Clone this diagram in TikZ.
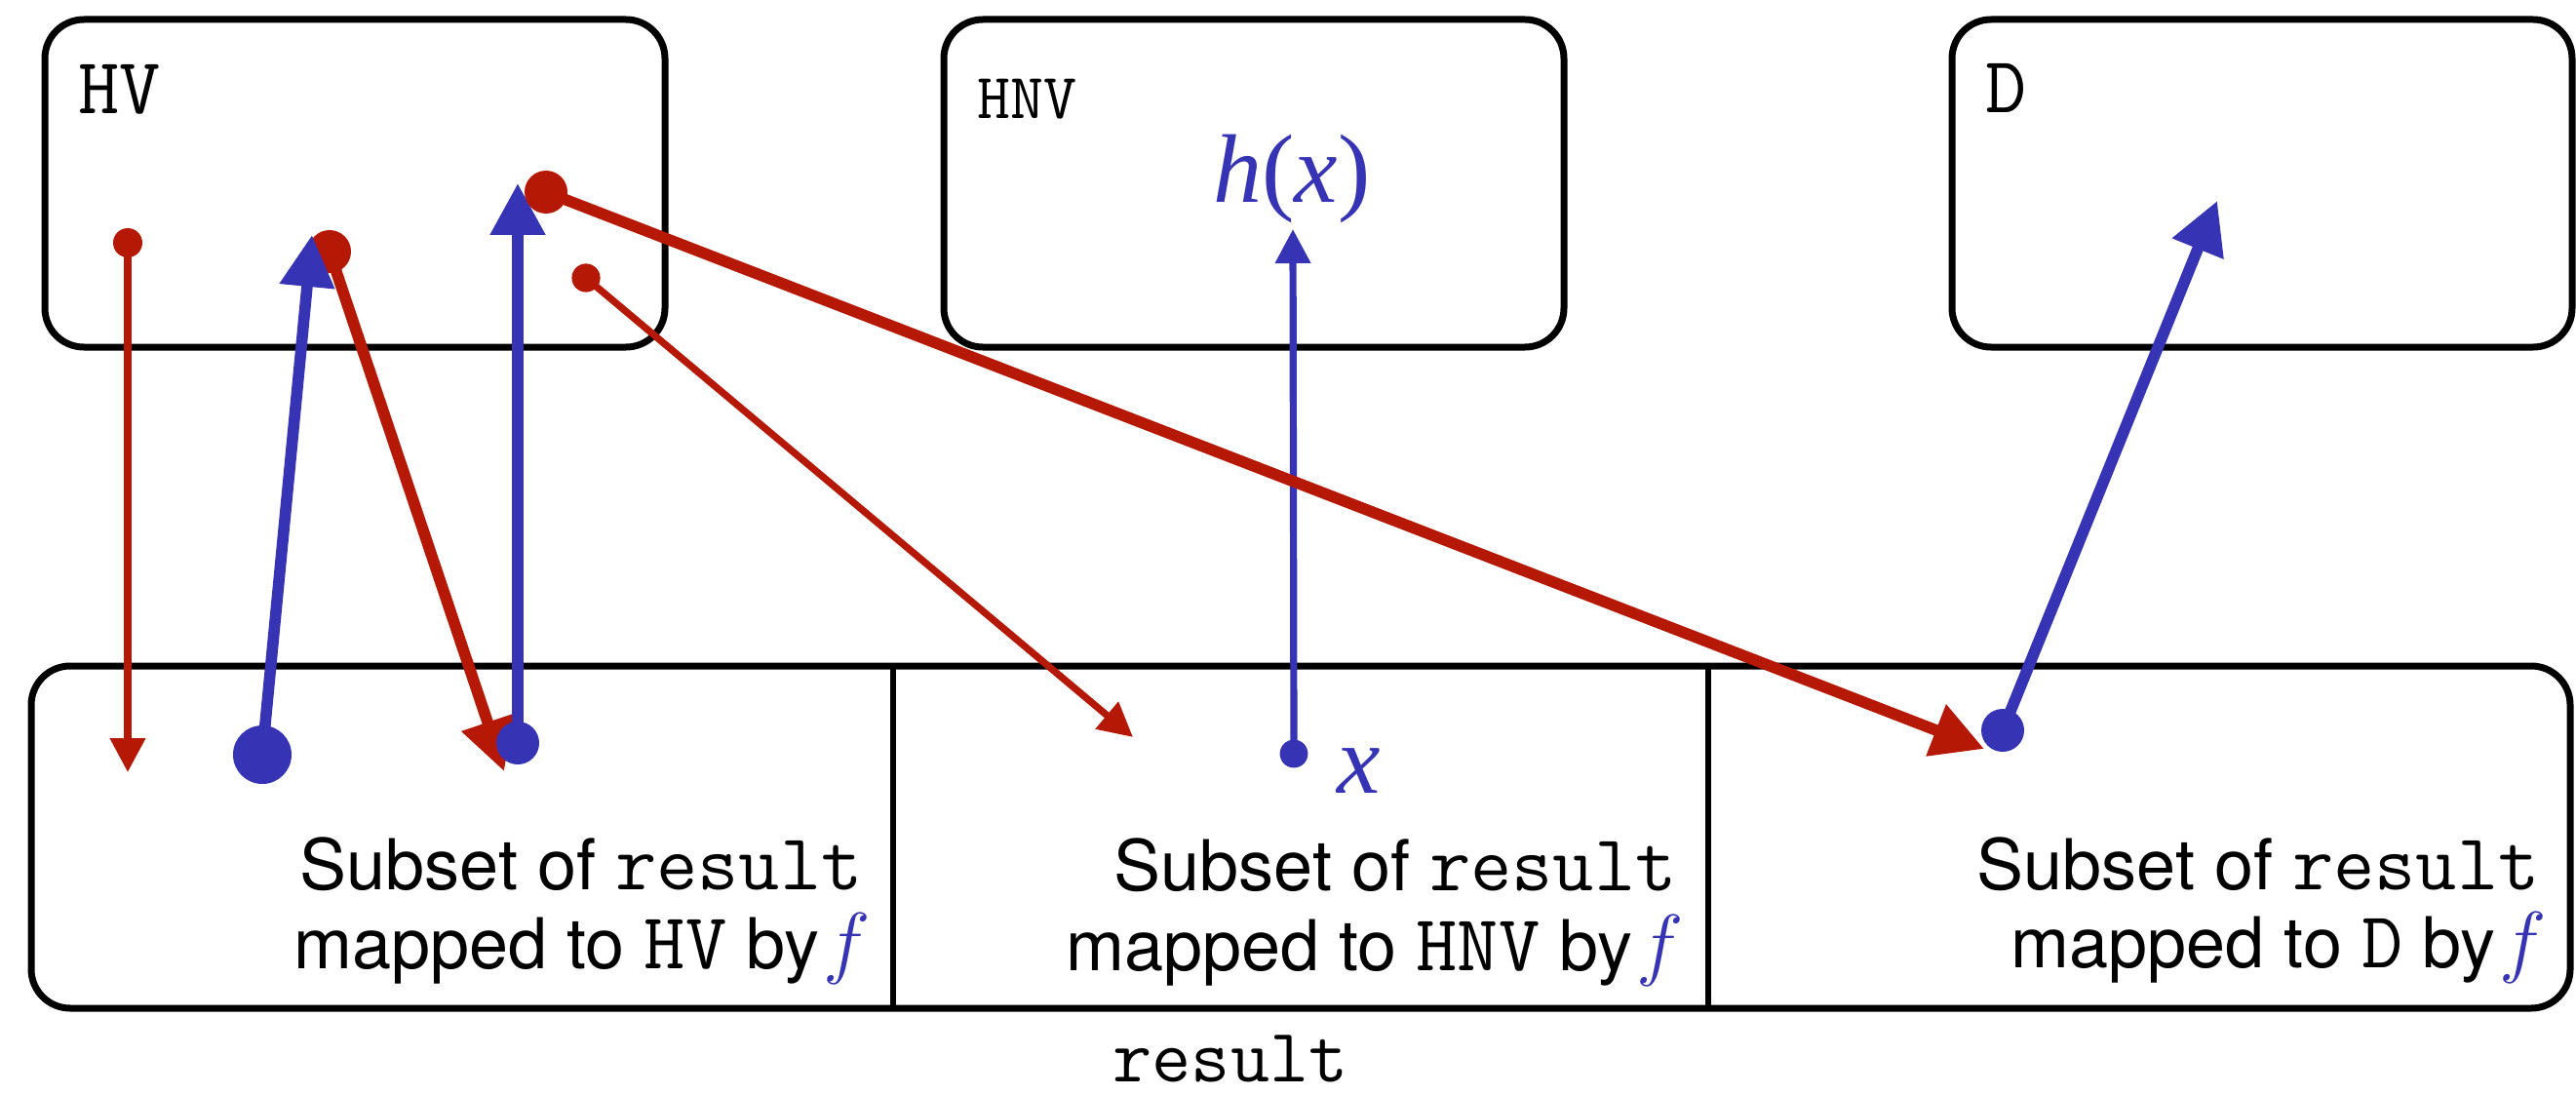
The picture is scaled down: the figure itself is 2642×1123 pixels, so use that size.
\documentclass[tikz,border=0pt]{standalone}
\usepackage{fix-cm}
\usepackage{fontspec}
\newfontfamily\herosfont{TeX Gyre Heros}
\newfontfamily\tmsfont{Liberation Serif}
\usetikzlibrary{arrows.meta}
\definecolor{myred}{RGB}{181,25,5}
\definecolor{myblue}{RGB}{54,52,180}
\newcommand\ttbig[1]{{\fontsize{41}{41}\selectfont\ttfamily #1}}
\newcommand\fblue{{\fontsize{41}{41}\selectfont\color{myblue}$f$}}
\tikzset{
  frame/.style={draw=black, line width=3.5pt, rounded corners=20pt, inner sep=0pt, outer sep=0pt},
  divider/.style={draw=black, line width=3.2pt},
  thinarrow/.style={line width=3.6pt, -{Triangle[length=17.5pt,width=17.5pt]}},
  thickarrow/.style={line width=5.8pt, -{Triangle[length=26.5pt,width=27pt]}},
  ttlab/.style={inner sep=0pt, font=\fontsize{41}{41}\selectfont\ttfamily},
  subtxt/.style={inner sep=0pt, anchor=base east, font=\fontsize{36}{41}\selectfont\herosfont},
}
\begin{document}
\begin{tikzpicture}[x=0.5pt,y=-0.5pt]
\useasboundingbox (0,0) rectangle (2642,1123);
% boxes
\node[frame, minimum width=318pt, minimum height=168pt] (HV) at (364,188) {};
\node[frame, minimum width=318pt, minimum height=168pt] (HNV) at (1286,188) {};
\node[frame, minimum width=318pt, minimum height=168pt] (D) at (2320,188) {};
\node[frame, minimum width=1302pt, minimum height=175.5pt] (res) at (1334,858.5) {};
\coordinate (d1) at (916,858);
\coordinate (d2) at (1752,858);
\draw[divider] (res.north -| d1) -- (res.south -| d1);
\draw[divider] (res.north -| d2) -- (res.south -| d2);
% labels
\node[ttlab, anchor=base west] (lHV) at (80,117) {HV};
\node[inner sep=0pt, anchor=base west, font=\fontsize{33}{33}\selectfont\ttfamily] (lHNV) at (1002,122) {HNV};
\node[ttlab, anchor=base west] (lD) at (2036,116) {D};
\node[inner sep=0pt, anchor=base west, text=myblue, font=\fontsize{50}{50}\selectfont\tmsfont] (hx) at (1244,207) {\itshape h\upshape(\itshape x\upshape)};
\node[inner sep=0pt, anchor=base west, text=myblue, font=\fontsize{50}{50}\selectfont\tmsfont\itshape] (xl) at (1371,813) {x};
\node[inner sep=0pt, anchor=base, font=\fontsize{39}{39}\selectfont\ttfamily] (reslab) at (1262,1109) {result};
% bottom texts
\node[subtxt] (t1a) at (885,912) {Subset of \ttbig{result}};
\node[subtxt] (t1b) at (893,993) {mapped to \ttbig{HV} by\kern2pt\fblue};
\node[subtxt] (t2a) at (1720,913) {Subset of \ttbig{result}};
\node[subtxt] (t2b) at (1727,995) {mapped to \ttbig{HNV} by\kern2pt\fblue};
\node[subtxt] (t3a) at (2605,912) {Subset of \ttbig{result}};
\node[subtxt] (t3b) at (2612,992) {mapped to \ttbig{D} by\kern2pt\fblue};
% connector end points
\coordinate (a1s) at (131,249);  \coordinate (a1e) at (131,792);
\coordinate (a2s) at (269,774);  \coordinate (a2e) at (320,241);
\coordinate (a3s) at (338,258);  \coordinate (a3e) at (517,791);
\coordinate (a4s) at (531,762);  \coordinate (a4e) at (531,188);
\coordinate (a5s) at (560,197);  \coordinate (a5e) at (2035,768);
\coordinate (a6s) at (601,285);  \coordinate (a6e) at (1162,756);
\coordinate (a7s) at (1327,773); \coordinate (a7e) at (1326,235);
\coordinate (a8s) at (2054,749); \coordinate (a8e) at (2274,206);
% connectors
\fill[myred] (a1s) circle[radius=7.5pt];
\draw[thinarrow, myred] (a1s) -- (a1e);
\fill[myred] (a6s) circle[radius=7.3pt];
\draw[thinarrow, myred] (a6s) -- (a6e);
\fill[myblue] (a7s) circle[radius=7.2pt];
\draw[thinarrow, myblue] (a7s) -- (a7e);
\fill[myred] (a3s) circle[radius=11pt];
\fill[myblue] (a2s) circle[radius=15pt];
\draw[thickarrow, myblue] (a2s) -- (a2e);
\draw[thickarrow, myred] (a3s) -- (a3e);
\fill[myblue] (a4s) circle[radius=11pt];
\draw[thickarrow, myblue] (a4s) -- (a4e);
\fill[myred] (a5s) circle[radius=11pt];
\draw[thickarrow, myred] (a5s) -- (a5e);
\fill[myblue] (a8s) circle[radius=11pt];
\draw[thickarrow, myblue] (a8s) -- (a8e);
\end{tikzpicture}
\end{document}
